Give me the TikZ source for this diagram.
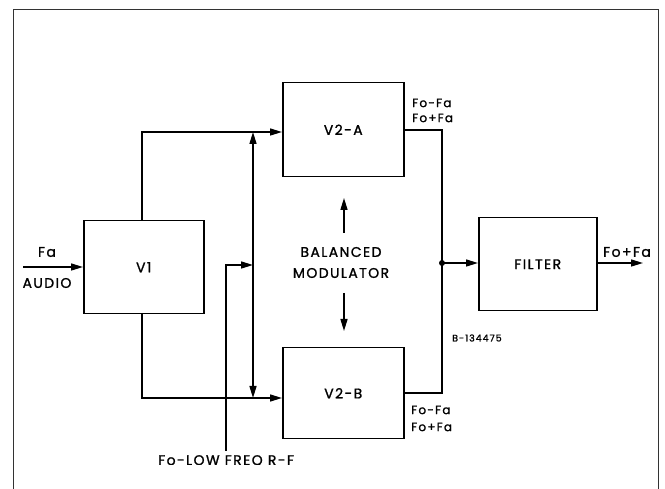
\documentclass[tikz,border=0pt]{standalone}
\usepackage{fontspec}
\setmainfont{Poppins}
\newfontfamily\lbl[LetterSpace=10,FakeBold=1.2]{Poppins}
\usetikzlibrary{arrows.meta}
\begin{document}
\begin{tikzpicture}[x=1pt,y=-1pt,
  wire/.style={line width=1.5pt},
  arr/.style={wire,-{Triangle[length=12pt,width=7pt]}},
  blk/.style={draw,line width=1.5pt,minimum width=120pt,anchor=north west,inner sep=0pt},
  big/.style={font=\lbl\fontsize{14}{14}\selectfont},
  med/.style={font=\lbl\fontsize{12}{14}\selectfont,inner sep=0pt},
  sml/.style={font=\lbl\fontsize{9.5}{10}\selectfont,inner sep=0pt}]
\useasboundingbox (0,0) rectangle (665,489);
% frame
\draw[line width=1pt,black!80] (13,489) -- (13,10) -- (658,10) -- (658,489);
% blocks
\node[blk,minimum width=120pt,minimum height=93pt] (v1) at (83,220) {};
\node[big] (v1t) at (v1.center) {V1};
\node[blk,minimum width=121pt,minimum height=94pt] (v2a) at (282,82) {};
\node[big] (v2at) at (v2a.center) {V2-A};
\node[blk,minimum width=121pt,minimum height=91pt] (v2b) at (282,347) {};
\node[big] (v2bt) at (v2b.center) {V2-B};
\node[blk,minimum width=118pt,minimum height=93pt] (flt) at (478,217) {};
\node[big] (fltt) at (flt.center) {FILTER};
% coordinates
\coordinate (in) at (23,267);
\coordinate (v1up) at (142,220);
\coordinate (v1dn) at (142,313);
\coordinate (tl) at (142,132);
\coordinate (bl) at (142,398);
\coordinate (ta) at (282,132);
\coordinate (bb) at (282,398);
\coordinate (bus) at (253,265);
\coordinate (bustop) at (253,132);
\coordinate (busbot) at (253,398);
\coordinate (fo) at (226,451);
\coordinate (fo2) at (226,265);
\coordinate (aout) at (403,130);
\coordinate (bout) at (403,393);
\coordinate (j1) at (442,130);
\coordinate (j2) at (442,393);
\coordinate (dot) at (442,263);
\coordinate (fin) at (478,263);
\coordinate (fout) at (596,263);
\coordinate (end) at (643,263);
\coordinate (ua1) at (344,233);
\coordinate (ua2) at (344,198);
\coordinate (da1) at (344,293);
\coordinate (da2) at (344,331);
% input
\draw[arr] (in) -- (in -| v1.west);
\node[big] (fa) at (47,252) {Fa};
\node[big] (audio) at (47,283) {AUDIO};
% V1 to modulators
\draw[arr] (v1up) -- (tl) -- (ta);
\draw[arr] (v1dn) -- (bl) -- (bb);
% carrier
\draw[arr] (fo) -- (fo2) -- (bus);
\draw[arr] (bus) -- (bustop);
\draw[arr] (bus) -- (busbot);
% balanced modulator
\node[big] (bal) at (341,252) {BALANCED};
\node[big] (mod) at (341,273) {MODULATOR};
\draw[arr] (ua1) -- (ua2);
\draw[arr] (da1) -- (da2);
% outputs
\draw[wire] (aout) -- (j1) -- (j2) -- (bout);
\fill (dot) circle (3pt);
\draw[arr] (dot) -- (fin);
\draw[arr] (fout) -- (end);
\node[big] (ffa) at (627,252) {Fo+Fa};
% labels
\node[med,anchor=west] (l1) at (412,103) {Fo-Fa};
\node[med,anchor=west] (l2) at (412,118) {Fo+Fa};
\node[med,anchor=west] (l3) at (411,410) {Fo-Fa};
\node[med,anchor=west] (l4) at (411,427) {Fo+Fa};
\node[sml,anchor=west] (code) at (452,338) {B-134475};
\begin{scope}
\clip (100,440) rectangle (400,465);
\node[big,anchor=north west,inner sep=0pt] (fol) at (158,455) {Fo-LOW FREQ R-F};
\end{scope}
\end{tikzpicture}
\end{document}
